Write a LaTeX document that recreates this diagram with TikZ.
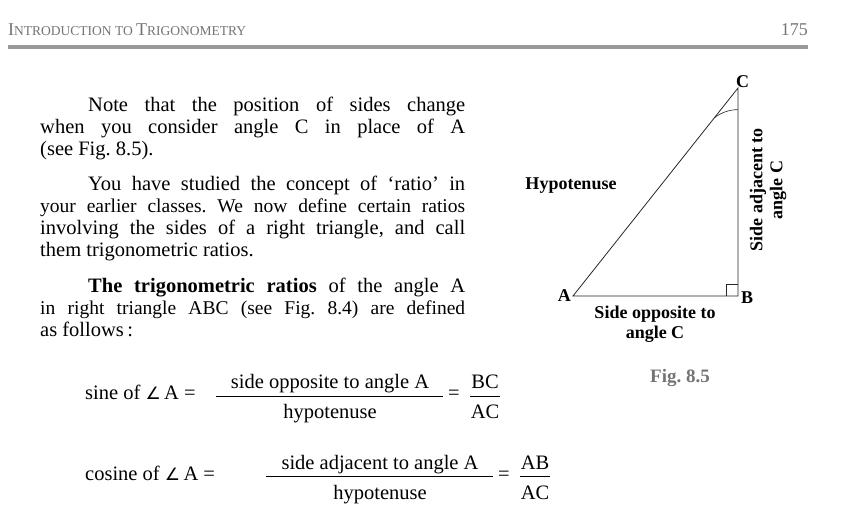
\documentclass[tikz,border=0pt]{standalone}
\usepackage{fontspec}
\setmainfont{Liberation Serif}
\newfontfamily\symf{DejaVu Sans}
\definecolor{hdr}{gray}{0.45}
\definecolor{rulec}{gray}{0.6}
\frenchspacing
\begin{document}
\begin{tikzpicture}[x=1pt,y=-1pt,
  txt/.style={anchor=base west,inner sep=0pt,font=\fontsize{20.5}{22}\selectfont},
  lbl/.style={inner sep=0pt,font=\fontsize{18}{20}\selectfont\bfseries,align=center},
  side/.style={draw=black!85,line width=0.8pt}]
\useasboundingbox (0,0) rectangle (844,529);
\node[anchor=base west,inner sep=0pt,text=hdr,font=\fontsize{18}{20}\selectfont] (hd) at (8,36) {I\fontsize{13.5}{15}\selectfont NTRODUCTION TO \fontsize{18}{20}\selectfont T\fontsize{13.5}{15}\selectfont RIGONOMETRY};
\node[anchor=base east,inner sep=0pt,text=hdr,font=\fontsize{18}{20}\selectfont] (pg) at (808,36) {175};
\draw[rulec,line width=4pt] (8,47) -- (808,47);
% paragraph 1
\node[txt] (l1) at (88,112) {\makebox[377pt][s]{Note that the position of sides change}};
\node[txt] (l2) at (40,134) {\makebox[425pt][s]{when you consider angle C in place of A}};
\node[txt] (l3) at (40,156) {(see Fig. 8.5).};
% paragraph 2
\node[txt] (m1) at (88,191) {\makebox[377pt][s]{You have studied the concept of ‘ratio’ in}};
\node[txt] (m2) at (40,213) {\makebox[425pt][s]{\fontsize{19.5}{22}\selectfont your earlier classes. We now define certain ratios}};
\node[txt] (m3) at (40,235) {\makebox[425pt][s]{involving the sides of a right triangle, and call}};
\node[txt] (m4) at (40,257) {them trigonometric ratios.};
% paragraph 3
\node[txt] (n1) at (88,293) {\makebox[377pt][s]{\textbf{The trigonometric ratios} of the angle A}};
\node[txt] (n2) at (40,315) {\makebox[425pt][s]{\fontsize{19.5}{22}\selectfont in right triangle ABC (see Fig. 8.4) are defined}};
\node[txt] (n3) at (40,337) {as follows\,:};
% sine
\node[txt] (s1) at (85,400) {sine of {\symf\fontsize{17}{17}\selectfont∠}\,A =};
\node[txt,anchor=base] (s2) at (330,389) {side opposite to angle A};
\draw[line width=0.7pt] (216,396) -- (443,396);
\node[txt,anchor=base] (s3) at (330,419) {hypotenuse};
\node[txt] (s4) at (448,400) {=};
\node[txt,anchor=base] (s5) at (485,389) {BC};
\draw[line width=0.7pt] (470,396) -- (500,396);
\node[txt,anchor=base] (s6) at (485,419) {AC};
% cosine
\node[txt] (c1) at (85,480) {cosine of {\symf\fontsize{17}{17}\selectfont∠}\,A =};
\node[txt,anchor=base] (c2) at (380,469) {side adjacent to angle A};
\draw[line width=0.7pt] (266,476) -- (493,476);
\node[txt,anchor=base] (c3) at (380,499) {hypotenuse};
\node[txt] (c4) at (498,480) {=};
\node[txt,anchor=base] (c5) at (535,469) {AB};
\draw[line width=0.7pt] (520,476) -- (550,476);
\node[txt,anchor=base] (c6) at (535,499) {AC};
% triangle
\coordinate (A) at (573,296);
\coordinate (B) at (738,296);
\coordinate (C) at (738,88);
\draw[side] (A) -- (B) -- (C) -- cycle;
\draw[side,line width=0.6pt] (726,296) -- (726,284) -- (738,284);
\draw[side,line width=0.6pt] (714.3,117.9) arc[start angle=231.5,end angle=270,radius=38];
\node[lbl,anchor=east] (la) at (571,296) {A};
\node[lbl,anchor=west] (lb) at (741,298) {B};
\node[lbl,anchor=south west] (lc) at (736,88) {C};
\node[lbl] (hyp) at (571,186) {Hypotenuse};
\node[lbl,rotate=90] (adj) at (768,190) {Side adjacent to\\angle C};
\node[lbl] (opp) at (655,324) {Side opposite to\\angle C};
\node[inner sep=0pt,text=hdr,font=\fontsize{19}{20}\selectfont\bfseries] (fig) at (680,378) {Fig. 8.5};
\end{tikzpicture}
\end{document}
